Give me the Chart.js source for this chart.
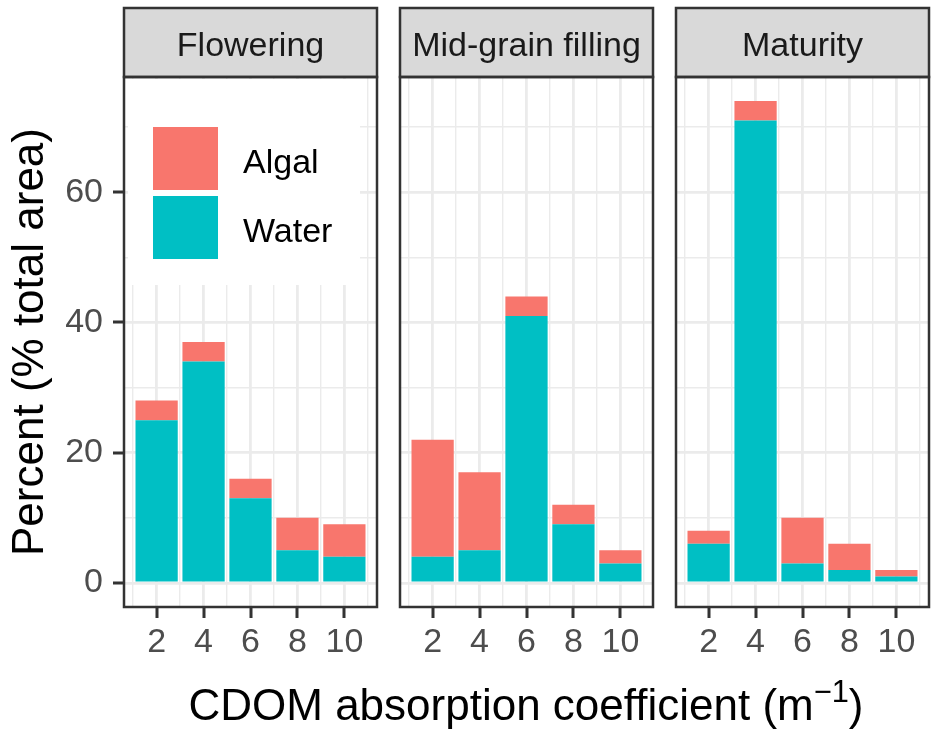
<!DOCTYPE html>
<html>
<head>
<meta charset="utf-8">
<script src="https://cdn.jsdelivr.net/npm/chart.js@4.4.0/dist/chart.umd.min.js"></script>
<style>
  html, body { margin: 0; padding: 0; background: #fff; }
  #wrap { position: relative; width: 934px; height: 731px; overflow: hidden;
          font-family: "Liberation Sans", Arial, sans-serif; }
  #wrap canvas { position: absolute; top: 0; }
  .title { position: absolute; font-size: 44px; line-height: 44px; color: #000;
           text-align: center; white-space: nowrap; }
  #ytitle { left: 28px; top: 342px; width: 600px; height: 44px;
            transform: translate(-50%, -50%) rotate(-90deg); }
  #xtitle { left: 126px; top: 683px; width: 800px; height: 44px; }
  #xtitle sup { font-size: 0.7em; line-height: 0; vertical-align: 0.6em; }
</style>
</head>
<body>
<div id="wrap">
  <canvas id="p0" width="380" height="731" style="left:0"></canvas>
  <canvas id="p1" width="273" height="731" style="left:390px"></canvas>
  <canvas id="p2" width="268" height="731" style="left:666px"></canvas>
  <div class="title" id="ytitle">Percent (% total area)</div>
  <div class="title" id="xtitle">CDOM absorption coefficient (m<sup>−1</sup>)</div>
</div>
<script>
// absorption classes (bar positions) and y tick labels
const xTicks = [2, 4, 6, 8, 10];
const yTicks = [0, 20, 40, 60];
const stages = ['Flowering', 'Mid-grain filling', 'Maturity'];

// percent of total area per class, one pair of arrays per stage
const waterFlowering = [25, 34, 13, 5, 4];
const algalFlowering = [3, 3, 3, 5, 5];
const waterMidGrain  = [4, 5, 41, 9, 3];
const algalMidGrain  = [18, 12, 3, 3, 2];
const waterMaturity  = [6, 71, 3, 2, 1];
const algalMaturity  = [2, 3, 7, 4, 1];

const WATER = '#00BFC4';
const ALGAL = '#F8766D';
const GRID = '#EBEBEB';
const DARK = '#333333';
const FONT = '"Liberation Sans", Arial, sans-serif';
const TICK_LEN = 10;

Chart.defaults.font.family = FONT;

// minor breaks sit halfway between the labelled ones
const xBreaks = [];
xTicks.forEach((v) => xBreaks.push(v - 1, v));
xBreaks.push(xTicks[xTicks.length - 1] + 1);
const yBreaks = [];
yTicks.forEach((v) => yBreaks.push(v, v + 10));

const isMajorX = (c) => c.tick && xTicks.includes(c.tick.value);
const isMajorY = (c) => c.tick && yTicks.includes(c.tick.value);

// strip header, panel frame, tick marks and the fill key inside the first panel
const facetPlugin = {
  id: 'facet',
  beforeDatasetsDraw(chart, args, opts) {
    if (!opts.legend) return;
    const { ctx, chartArea: a } = chart;
    ctx.save();
    ctx.fillStyle = '#fff';
    ctx.fillRect(a.left + 4, a.top + 2, 232, 206);
    const keys = chart.data.datasets.slice().reverse();
    keys.forEach((ds, i) => {
      const y = a.top + 50 + i * 69;
      ctx.fillStyle = ds.backgroundColor;
      ctx.fillRect(a.left + 29, y, 65, 63);
      ctx.fillStyle = '#000';
      ctx.font = '34px ' + FONT;
      ctx.textAlign = 'left';
      ctx.textBaseline = 'alphabetic';
      ctx.fillText(ds.label, a.left + 119, y + 46);
    });
    ctx.restore();
  },
  afterDraw(chart, args, opts) {
    const { ctx, chartArea: a, scales } = chart;
    const w = a.right - a.left;
    ctx.save();
    ctx.fillStyle = '#D9D9D9';
    ctx.fillRect(a.left, 8, w, a.top - 8);
    ctx.strokeStyle = DARK;
    ctx.lineWidth = 2.5;
    ctx.strokeRect(a.left, 8, w, a.top - 8);
    ctx.strokeRect(a.left, a.top, w, a.bottom - a.top);

    // tick marks on the labelled breaks
    ctx.fillStyle = DARK;
    xTicks.forEach((v) => {
      const px = Math.round(scales.x.getPixelForValue(v));
      ctx.fillRect(px - 1.5, a.bottom + 1, 3, TICK_LEN);
    });
    if (opts.legend) {
      yTicks.forEach((v) => {
        const py = Math.round(scales.y.getPixelForValue(v));
        ctx.fillRect(a.left - TICK_LEN - 1, py - 1.5, TICK_LEN, 3);
      });
    }

    ctx.fillStyle = '#1A1A1A';
    ctx.font = '34px ' + FONT;
    ctx.textAlign = 'center';
    ctx.textBaseline = 'alphabetic';
    ctx.fillText(opts.label, (a.left + a.right) / 2, a.top - 21);
    ctx.restore();
  }
};

function buildPanel(id, stage, water, algal, first, pad) {
  const ctx = document.getElementById(id).getContext('2d');
  return new Chart(ctx, {
    type: 'bar',
    data: {
      datasets: [
        { label: 'Water', data: xTicks.map((x, i) => ({ x, y: water[i] })),
          backgroundColor: WATER, stack: 's', borderWidth: 0 },
        { label: 'Algal', data: xTicks.map((x, i) => ({ x, y: algal[i] })),
          backgroundColor: ALGAL, stack: 's', borderWidth: 0 },
      ],
    },
    options: {
      responsive: false,
      animation: false,
      events: [],
      layout: { padding: { top: 77, left: pad[0], right: pad[1], bottom: 0 } },
      // bar slots follow the 1-unit break spacing, bars span 1.8 units
      datasets: { bar: { categoryPercentage: 1, barPercentage: 1.8 } },
      plugins: {
        legend: { display: false },
        tooltip: { enabled: false },
        facet: { label: stage, legend: first },
      },
      scales: {
        x: {
          type: 'linear',
          min: 0.61,
          max: 11.39,
          offset: false,
          border: { display: false },
          afterBuildTicks: (s) => { s.ticks = xBreaks.map((v) => ({ value: v })); },
          afterFit: (s) => { s.height = 124; },
          grid: {
            offset: false,
            color: GRID,
            lineWidth: (c) => (isMajorX(c) ? 2.8 : 1.4),
            tickColor: 'rgba(0,0,0,0)',
            tickLength: TICK_LEN,
          },
          ticks: {
            autoSkip: false,
            maxRotation: 0,
            padding: 5,
            color: '#4D4D4D',
            font: { size: 34 },
            callback: (v) => (xTicks.includes(v) ? String(v) : ''),
          },
        },
        y: {
          stacked: true,
          min: -3.7,
          max: 77.7,
          border: { display: false },
          afterBuildTicks: (s) => { s.ticks = yBreaks.map((v) => ({ value: v })); },
          afterFit: (s) => { s.width = first ? 124 : 0; },
          grid: {
            color: GRID,
            lineWidth: (c) => (isMajorY(c) ? 2.8 : 1.4),
            drawTicks: first,
            tickColor: 'rgba(0,0,0,0)',
            tickLength: TICK_LEN,
          },
          ticks: {
            display: first,
            padding: 11,
            color: '#4D4D4D',
            font: { size: 34 },
            callback: (v) => (yTicks.includes(v) ? String(v) : ''),
          },
        },
      },
    },
    plugins: [facetPlugin],
  });
}

buildPanel('p0', stages[0], waterFlowering, algalFlowering, true, [0, 3]);
buildPanel('p1', stages[1], waterMidGrain, algalMidGrain, false, [10, 10]);
buildPanel('p2', stages[2], waterMaturity, algalMaturity, false, [10, 5]);
</script>
</body>
</html>
